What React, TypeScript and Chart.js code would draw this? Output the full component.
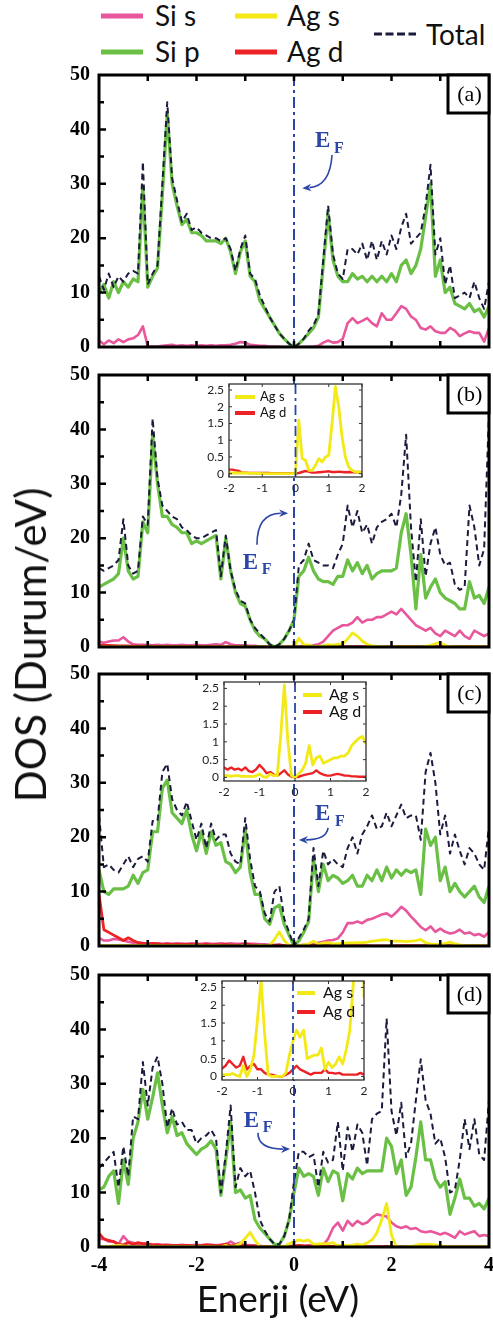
import React, { useEffect, useRef } from "react";
import { Chart, registerables } from "chart.js";
Chart.register(...registerables);

// Energy grid (eV), 0.1 eV step from -4 to 4
const ENERGY = Array.from({ length: 81 }, (_, i) => (i - 40) / 10);

const X_TICKS = [-4, -2, 0, 2, 4];
const Y_TICKS = [0, 10, 20, 30, 40, 50];
const INSET_X_TICKS = [-2, -1, 0, 1, 2];
const INSET_Y_TICKS = [0, 0.5, 1, 1.5, 2, 2.5];
const PANEL_TAGS = ["(a)", "(b)", "(c)", "(d)"];

// ---------- Panel (a) ----------
const A_TOTAL = [
  13, 10.5, 13.5, 11, 13, 12, 13.5, 14, 13.5, 34,
  11.5, 13.5, 15, 30, 45, 31, 27, 23, 24.5, 21.5,
  22, 21, 20.5, 20, 20, 19.5, 20, 18, 14, 18,
  20.5, 13.5, 12.5, 9.5, 7.5, 5.5, 4, 2.5, 1.5, 0.6,
  0, 0.6, 1.5, 3, 4, 6, 16, 26, 17, 13.5,
  12.5, 18, 18, 17, 19, 16, 19.5, 16, 19.5, 17,
  20.5, 18, 22, 24.5, 19, 20, 21, 26, 33.5, 17,
  20, 11.5, 15, 9, 9.5, 10, 9, 12, 9, 7,
  12,
];
const A_SIP = [
  10, 11.5, 9, 12, 10, 12, 11, 12.5, 12, 29.5,
  11, 13, 14.5, 28, 43, 30, 26, 22.5, 23.5, 21,
  21, 20.5, 19.5, 19.5, 19.5, 19, 20, 17.5, 13.5, 17.5,
  19.5, 13, 12, 8.5, 7, 5.5, 4, 2.5, 1.5, 0.6,
  0, 0.6, 1.5, 2.5, 3.5, 5.5, 15, 24.5, 16, 13,
  12, 12, 13.5, 12.5, 13, 12, 13, 12, 13, 12,
  13.5, 12, 15, 16, 13.5, 15, 18, 24, 30, 13,
  16, 10, 11, 8, 7.5, 7, 8, 6.5, 7, 5.5,
  7.5,
];
const A_SIS = [
  1.2, 0.5, 1.2, 0.7, 1.4, 0.9, 1.4, 1.6, 2.2, 3.8,
  0.1, 0.1, 0.1, 0.2, 0.3, 0.4, 0.2, 0.3, 0.2, 0.3,
  0.2, 0.3, 0.2, 0.3, 0.2, 0.3, 0.3, 0.4, 0.6, 0.9,
  0.8, 0.4, 0.3, 0.2, 0.2, 0.1, 0.1, 0.05, 0, 0,
  0, 0, 0, 0.05, 0.1, 0.2, 0.8, 1.2, 0.8, 0.9,
  1.5, 4.4, 5.3, 4.4, 4.8, 5.3, 4.4, 3.8, 6.2, 5,
  5, 6.2, 7.5, 7, 5.6, 5, 3.5, 3.2, 3.8, 2.9,
  2.6, 2.6, 3.5, 3, 2, 2.5, 2.9, 2.6, 2.6, 1,
  3.5,
];

// ---------- Panel (b) ----------
const B_TOTAL = [
  14.5, 14, 14.5, 15, 16, 23.5, 15, 13.5, 14, 24,
  22.5, 42, 31, 26, 25, 24, 23.5, 22, 21.5, 20.5,
  20, 20, 20.5, 21, 21.5, 13, 20.5, 14, 10.5, 8.5,
  8, 5, 3.5, 2.5, 1.5, 0.5, 0, 0.5, 1.5, 3,
  5, 15, 16, 19, 16, 15.5, 15, 15, 14.5, 17,
  19, 26, 22, 25, 21, 22.5, 19, 22, 23, 23.5,
  24.5, 22, 28, 39, 22, 12, 23.5, 13, 19, 22,
  17, 15, 15.5, 11.5, 10.5, 11, 26, 22, 15, 18,
  43,
];
const B_SIP = [
  11, 11.5, 12, 12.5, 13.5, 20, 14, 12.5, 13, 23,
  21, 39, 30, 24, 24, 22.5, 22, 21, 21, 19,
  19.5, 19, 19.5, 20, 20.5, 12.5, 20, 14, 10, 8,
  7.5, 5, 3, 2, 1.5, 0.5, 0, 0.5, 1.5, 3,
  5, 13, 14, 16.5, 14, 12.5, 12, 12, 11.5, 13,
  13, 16, 14, 15.5, 13.5, 15, 12.5, 13.5, 14, 14,
  14, 14.5, 21, 24.5, 17, 7, 17, 9, 11, 12.5,
  10, 9, 8.5, 8, 7, 7, 12, 9, 9.5, 8,
  11,
];
const B_SIS = [
  1, 0.8, 1, 1.2, 1.2, 1.8, 1, 0.5, 0.4, 0.4,
  0.4, 0.3, 0.4, 0.3, 0.4, 0.3, 0.3, 0.4, 0.3, 0.3,
  0.4, 0.3, 0.3, 0.4, 0.5, 0.4, 0.9, 0.5, 0.3, 0.3,
  0.3, 0.2, 0.2, 0.1, 0.1, 0.05, 0, 0, 0, 0,
  0, 0, 0.1, 0.2, 0.3, 0.5, 1, 2, 3, 3.5,
  4, 4, 4.5, 5.5, 4.5, 5, 5, 5.5, 5.5, 6,
  6.5, 6, 7, 6, 5, 4, 3.5, 3, 3.5, 2.5,
  2, 3, 2.5, 2, 3, 2, 1.5, 3, 2.5, 2,
  2.5,
];
const B_AGS = [
  0, 0, 0, 0, 0, 0, 0, 0, 0, 0,
  0, 0, 0, 0, 0, 0, 0, 0, 0, 0,
  0.02, 0.02, 0.02, 0.02, 0.02, 0.02, 0.01, 0.01, 0.01, 0.01,
  0, 0, 0, 0, 0, 0, 0, 0, 0, 0,
  0, 1.6, 0.45, 0.4, 0.1, 0.1, 0.25, 0.45, 0.35, 0.5,
  0.55, 1.5, 2.6, 2.0, 1.1, 0.5, 0.2, 0.1, 0.05, 0.05,
  0.02, 0, 0, 0, 0, 0, 0, 0.1, 0.3, 0.6,
  0.8, 0.3, 0.05, 0, 0, 0, 0, 0, 0, 0,
  0,
];
const B_AGD = [
  0.4, 0.3, 0.3, 0.25, 0.2, 0.2, 0.2, 0.15, 0.15, 0.15,
  0.15, 0.15, 0.12, 0.12, 0.12, 0.12, 0.12, 0.12, 0.12, 0.12,
  0.12, 0.12, 0.1, 0.08, 0.03, 0.03, 0.02, 0.02, 0.02, 0.02,
  0.02, 0.02, 0.02, 0.01, 0.01, 0.01, 0.01, 0.01, 0.01, 0.01,
  0, 0.02, 0.05, 0.08, 0.06, 0.03, 0.03, 0.04, 0.05, 0.06,
  0.07, 0.05, 0.05, 0.06, 0.05, 0.04, 0.05, 0.04, 0.04, 0.05,
  0.04, 0.05, 0.05, 0.06, 0.06, 0.05, 0.05, 0.06, 0.07, 0.06,
  0.05, 0.05, 0.05, 0.05, 0.05, 0.05, 0.05, 0.05, 0.05, 0.05,
  0.05,
];

// ---------- Panel (c) ----------
const C_TOTAL = [
  24, 14.5, 15, 14, 13.5, 15, 16.5, 14.5, 16, 16.5,
  15.5, 23, 23, 32, 33.5, 27, 25, 24, 26.5, 23,
  19.5, 22.5, 18, 22.5, 19.5, 20.5, 20.5, 17, 15.5, 15,
  23.5, 16, 11, 10, 6, 4.5, 10, 11, 5, 2.5,
  0, 1.5, 3, 5, 18, 11, 17.5, 15, 16, 15,
  14.5, 18, 20, 17, 20.5, 22, 24, 21.5, 22, 24.5,
  22, 24, 26, 23.5, 24, 24, 19.5, 32, 35.5, 30,
  20.5, 24, 17, 20.5, 17.5, 15, 18, 17, 15, 14,
  22,
];
const C_SIP = [
  14, 10, 9.5, 10.5, 10.5, 10.5, 11, 13, 11.5, 13.5,
  14, 21, 21, 29, 30.5, 24.5, 23.5, 22.5, 25, 20.5,
  17.5, 21, 17, 21, 18.5, 19, 15.5, 15, 13.5, 14.5,
  21.5, 13.5, 9.5, 9.5, 5, 4, 7, 7.5, 4, 2,
  0, 1, 2.5, 4.5, 16, 10, 15, 12, 13, 12.5,
  11.5, 12, 13, 11, 11, 13, 12, 14, 12, 14.5,
  12.5, 14, 13, 14, 13.5, 14, 9.5, 21.5, 18.5, 20,
  12, 14.5, 10, 11.5, 10, 9, 10, 11, 9, 8,
  11,
];
const C_SIS = [
  1.5, 1, 1, 1.3, 1.2, 1, 0.8, 0.6, 0.7, 0.5,
  0.5, 0.4, 0.5, 0.4, 0.5, 0.4, 0.5, 0.4, 0.4, 0.5,
  0.4, 0.4, 0.5, 0.4, 0.4, 0.5, 0.4, 0.5, 0.4, 0.4,
  0.5, 0.4, 0.4, 0.3, 0.3, 0.2, 0.2, 0.2, 0.1, 0.1,
  0, 0.1, 0.2, 0.3, 0.3, 0.6, 0.8, 1.0, 1.1, 1.4,
  2.5, 4.2, 4.2, 4.5, 4.2, 4.8, 5, 5.4, 5.8, 6,
  5.4, 6.2, 7.2, 6.5, 5.4, 4.5, 3.5, 2.9, 3.6, 2.6,
  3.2, 2.6, 2.3, 2.5, 3, 2.3, 2.5, 2, 2.2, 1.7,
  2.6,
];
const C_AGS = [
  0.05, 0.05, 0.05, 0.05, 0.05, 0.05, 0.05, 0.05, 0.05, 0.05,
  0.05, 0.05, 0.05, 0.05, 0.05, 0.05, 0.05, 0.05, 0.05, 0.05,
  0.05, 0.05, 0.03, 0.05, 0.05, 0.03, 0.03, 0.03, 0.02, 0.05,
  0.1, 0.02, 0, 0.1, 0.05, 0.05, 1.2, 2.6, 1.0, 0.05,
  0, 0.1, 0.2, 0.4, 0.9, 0.35, 0.55, 0.6, 0.4, 0.45,
  0.5, 0.55, 0.55, 0.6, 0.6, 0.7, 0.9, 1.0, 1.1, 1.15,
  0.95, 0.9, 0.9, 0.8, 0.9, 1.0, 1.2, 0.6, 0.4, 0.3,
  0.3, 0.5, 0.7, 0.4, 0.2, 0.1, 0.05, 0.05, 0.05, 0.05,
  0.05,
];
const C_AGD = [
  9.5, 3, 2.5, 2, 1.5, 1, 1.5, 1, 0.6, 0.5,
  0.4, 0.5, 0.4, 0.3, 0.35, 0.3, 0.3, 0.35, 0.3, 0.3,
  0.28, 0.22, 0.28, 0.22, 0.25, 0.2, 0.28, 0.18, 0.15, 0.22,
  0.35, 0.25, 0.12, 0.15, 0.08, 0.05, 0.12, 0.2, 0.08, 0.02,
  0, 0.02, 0.05, 0.08, 0.1, 0.12, 0.2, 0.12, 0.08, 0.05,
  0.05, 0.08, 0.1, 0.08, 0.05, 0.05, 0.03, 0.03, 0.02, 0.02,
  0.02, 0.05, 0.05, 0.05, 0.05, 0.05, 0.05, 0.05, 0.05, 0.05,
  0.05, 0.05, 0.05, 0.05, 0.05, 0.05, 0.05, 0.05, 0.05, 0.05,
  0.05,
];

// ---------- Panel (d) ----------
const D_TOTAL = [
  14.5, 15.5, 16.5, 17.5, 11, 18.5, 13, 24, 23.5, 34,
  26, 33, 35, 30, 22, 25.5, 22.5, 23, 21.5, 21.5,
  19, 20, 20.5, 21.5, 20, 10, 17, 26, 11, 14.5,
  13, 14, 10, 5, 3, 1.5, 0.5, 0.5, 2, 5,
  12, 17.5, 17.5, 16.5, 17, 11, 17.5, 15.5, 16, 23,
  14, 22, 17.5, 22.5, 21, 15, 23.5, 24.5, 25, 42,
  25, 20.5, 26.5, 16.5, 19, 27, 34.5, 27, 24.5, 19,
  20, 16.5, 10, 10.5, 16, 23.5, 18, 23.5, 17, 16,
  27,
];
const D_SIP = [
  10.5, 11, 13, 14, 8, 16, 11.5, 20, 23, 29,
  23.5, 27.5, 32, 26, 21, 24, 20.5, 21, 19, 18,
  17, 18, 18.5, 19.5, 18, 9.5, 16, 23, 10, 10.5,
  9, 9.5, 5, 3.5, 2.5, 1.5, 0.5, 0.5, 2, 5,
  10, 14.5, 13, 13.5, 13, 9.5, 14.5, 12, 14, 13.5,
  8.5, 13.5, 12.5, 14.5, 13.5, 14, 14, 14, 14, 20,
  18.5, 13.5, 16, 9.5, 11, 16.5, 23, 16, 16, 12.5,
  11, 12, 6, 9, 12.5, 9, 9, 7.5, 8, 7,
  9,
];
const D_SIS = [
  1.5, 1.5, 1, 1, 0.5, 2, 1, 0.8, 0.5, 0.6,
  0.5, 0.4, 0.5, 0.4, 0.4, 0.3, 0.3, 0.4, 0.3, 0.3,
  0.4, 0.3, 0.3, 0.4, 0.3, 0.4, 0.5, 1, 0.5, 0.8,
  0.4, 0.3, 0.3, 0.2, 0.1, 0.05, 0, 0, 0.05, 0.1,
  0.1, 0.2, 0.2, 0.3, 0.2, 0.3, 0.4, 1.5, 3.5, 4.5,
  3, 4.8, 3.9, 4.8, 4.2, 4.5, 5.4, 6, 5.8, 5.6,
  4.5, 3.8, 3.5, 3.8, 3.3, 3.5, 2.9, 2.7, 2.9, 2.6,
  2.3, 2.6, 2.2, 1.7, 2.9, 2.3, 2.6, 2.9, 2, 2.2,
  2,
];
const D_AGS = [
  0.05, 0.05, 0.1, 0.2, 0.3, 0.2, 0.1, 0.05, 0.05, 0.05,
  0.05, 0.05, 0.05, 0.05, 0.05, 0.05, 0.05, 0.05, 0.05, 0.05,
  0.05, 0.05, 0.05, 0.08, 0.03, 0, 0.3, 0, 0.2, 0.6,
  1.6, 2.7, 1.2, 0.05, 0, 0, 0, 0, 0.1, 0.6,
  1.0, 1.3, 1.1, 1.3, 0.5, 0.55, 0.6, 0.6, 0.8, 0.2,
  0.4, 0.25, 0.35, 0.55, 0.35, 0.75, 1.3, 2.6, 5, 8,
  2.2, 0, 0, 0.05, 0.1, 0.3, 0.5, 0.5, 0.5, 0.4,
  0.2, 0.1, 0.05, 0.05, 0.05, 0.05, 0.05, 0.05, 0.05, 0.05,
  0.05,
];
const D_AGD = [
  2.5, 1.5, 1.2, 1, 0.5, 0.4, 0.8, 0.5, 0.8, 0.6,
  0.6, 0.4, 0.4, 0.3, 0.35, 0.3, 0.3, 0.25, 0.3, 0.25,
  0.22, 0.3, 0.45, 0.35, 0.25, 0.3, 0.55, 0.2, 0.3, 0.35,
  0.2, 0.2, 0.1, 0.05, 0.05, 0.02, 0, 0, 0.05, 0.1,
  0.2, 0.3, 0.2, 0.15, 0.1, 0.05, 0.1, 0.1, 0.1, 0.2,
  0.1, 0.1, 0.08, 0.1, 0.05, 0.05, 0.05, 0.05, 0.05, 0.1,
  0.05, 0.05, 0.05, 0.05, 0.05, 0.05, 0.05, 0.05, 0.05, 0.05,
  0.05, 0.05, 0.05, 0.05, 0.05, 0.05, 0.05, 0.05, 0.05, 0.05,
  0.05,
];

// ---------- styling ----------
const PINK = "#e8579b";
const GREEN = "#6abf45";
const YELLOW = "#f3e917";
const RED = "#ec2227";
const NAVY = "#1b1b3d";
const BLUE = "#2b46a7";
const SERIF = "'Liberation Serif', 'Times New Roman', serif";
const SANS = "Lato, 'Open Sans', sans-serif";

type EF = { ex: number; ey: number; fx: number; fy: number; s: [number, number]; c: [number, number]; t: [number, number] };
type Panel = {
  tag: string; top: number; total: number[]; sip: number[]; sis: number[];
  ags: number[] | null; agd: number[] | null; showX: boolean; ef: EF;
};

const PANELS: Panel[] = [
  { tag: PANEL_TAGS[0], top: 75, total: A_TOTAL, sip: A_SIP, sis: A_SIS, ags: null, agd: null, showX: false,
    ef: { ex: 0.43, ey: 36.8, fx: 0.82, fy: 35.7, s: [0.78, 35.3], c: [0.74, 29.6], t: [0.17, 29.2] } },
  { tag: PANEL_TAGS[1], top: 375, total: B_TOTAL, sip: B_SIP, sis: B_SIS, ags: B_AGS, agd: B_AGD, showX: false,
    ef: { ex: -1.05, ey: 14.3, fx: -0.66, fy: 13.4, s: [-0.76, 18.8], c: [-0.76, 24.6], t: [-0.12, 24.6] } },
  { tag: PANEL_TAGS[2], top: 674, total: C_TOTAL, sip: C_SIP, sis: C_SIS, ags: C_AGS, agd: C_AGD, showX: false,
    ef: { ex: 0.43, ey: 23.2, fx: 0.84, fy: 22.1, s: [0.7, 21.7], c: [0.66, 19.5], t: [0.1, 19.5] } },
  { tag: PANEL_TAGS[3], top: 975, total: D_TOTAL, sip: D_SIP, sis: D_SIS, ags: D_AGS, agd: D_AGD, showX: true,
    ef: { ex: -1.03, ey: 22.1, fx: -0.64, fy: 21.1, s: [-0.74, 21], c: [-0.74, 18], t: [-0.08, 18] } },
];

type Inset = {
  left: number; top: number; w: number; h: number; ags: number[]; agd: number[];
  lg: { x: number; y: number; dy: number; len: number; tx: number; size: number };
};
const INSETS: Inset[] = [
  { left: 199, top: 378, w: 171, h: 119, ags: B_AGS, agd: B_AGD, lg: { x: 6, y: 13, dy: 16, len: 20, tx: 31, size: 13 } },
  { left: 194, top: 676, w: 180, h: 125, ags: C_AGS, agd: C_AGD, lg: { x: 79, y: 13, dy: 17, len: 19, tx: 105, size: 16 } },
  { left: 192, top: 975, w: 180, h: 125, ags: D_AGS, agd: D_AGD, lg: { x: 75, y: 12, dy: 19, len: 18, tx: 101, size: 16 } },
];

function ds(label: string, values: number[], color: string, width: number, dash: number[] = []) {
  return {
    label,
    data: ENERGY.map((x, i) => ({ x, y: values[i] })),
    borderColor: color,
    backgroundColor: color,
    borderWidth: width,
    borderDash: dash,
    pointRadius: 0,
    tension: 0,
    fill: false,
    borderJoinStyle: "round",
  };
}

function mainDecor(p: Panel) {
  return {
    id: "mainDecor",
    afterDatasetsDraw(chart: any) {
      const { ctx, chartArea: a, scales } = chart;
      const x = scales.x, y = scales.y;
      ctx.save();
      // Fermi level
      const xf = x.getPixelForValue(0);
      ctx.strokeStyle = BLUE;
      ctx.lineWidth = 2;
      ctx.setLineDash([11, 4, 3, 4]);
      ctx.beginPath();
      ctx.moveTo(xf, a.top);
      ctx.lineTo(xf, a.bottom);
      ctx.stroke();
      ctx.setLineDash([]);
      // inward ticks
      ctx.strokeStyle = "#000";
      ctx.lineWidth = 2.5;
      ctx.beginPath();
      for (let v = -3; v <= 3; v++) {
        const px = x.getPixelForValue(v);
        ctx.moveTo(px, a.bottom); ctx.lineTo(px, a.bottom - 6);
        ctx.moveTo(px, a.top); ctx.lineTo(px, a.top + 6);
      }
      for (let v = 5; v < 50; v += 5) {
        const py = y.getPixelForValue(v);
        ctx.moveTo(a.left, py); ctx.lineTo(a.left + (v % 10 === 0 ? 7 : 5), py);
      }
      ctx.stroke();
      // frame
      ctx.lineWidth = 3;
      ctx.strokeRect(a.left, a.top, a.right - a.left, a.bottom - a.top);
      // panel tag box
      const bw = 41, bh = 38;
      ctx.fillStyle = "#fff";
      ctx.fillRect(a.right - bw, a.top, bw, bh);
      ctx.strokeRect(a.right - bw, a.top, bw, bh);
      ctx.fillStyle = "#000";
      ctx.font = `22px ${SERIF}`;
      ctx.textAlign = "center";
      ctx.textBaseline = "middle";
      ctx.fillText(p.tag, a.right - bw / 2 + 1, a.top + bh / 2 + 1);
      // E_F label
      const e = p.ef;
      ctx.fillStyle = BLUE;
      ctx.textAlign = "left";
      ctx.textBaseline = "alphabetic";
      ctx.font = `bold 23px ${SERIF}`;
      ctx.fillText("E", x.getPixelForValue(e.ex), y.getPixelForValue(e.ey));
      ctx.font = `bold 16px ${SERIF}`;
      ctx.fillText("F", x.getPixelForValue(e.fx), y.getPixelForValue(e.fy));
      // arrow
      const sx = x.getPixelForValue(e.s[0]), sy = y.getPixelForValue(e.s[1]);
      const cx = x.getPixelForValue(e.c[0]), cy = y.getPixelForValue(e.c[1]);
      const tx = x.getPixelForValue(e.t[0]), ty = y.getPixelForValue(e.t[1]);
      const ang = Math.atan2(ty - cy, tx - cx);
      const hl = 9, hw = 3.8;
      const bx = tx - Math.cos(ang) * hl * 0.8, by = ty - Math.sin(ang) * hl * 0.8;
      ctx.strokeStyle = BLUE;
      ctx.lineWidth = 1.6;
      ctx.beginPath();
      ctx.moveTo(sx, sy);
      ctx.quadraticCurveTo(cx, cy, bx, by);
      ctx.stroke();
      ctx.beginPath();
      ctx.moveTo(tx, ty);
      ctx.lineTo(tx - Math.cos(ang) * hl - Math.sin(ang) * hw, ty - Math.sin(ang) * hl + Math.cos(ang) * hw);
      ctx.lineTo(tx - Math.cos(ang) * hl * 0.7, ty - Math.sin(ang) * hl * 0.7);
      ctx.lineTo(tx - Math.cos(ang) * hl + Math.sin(ang) * hw, ty - Math.sin(ang) * hl - Math.cos(ang) * hw);
      ctx.closePath();
      ctx.fill();
      ctx.restore();
    },
  };
}

function mainConfig(p: Panel): any {
  const datasets: any[] = [ds("Total", p.total, NAVY, 2, [6, 4]), ds("Si p", p.sip, GREEN, 3.2)];
  if (p.ags && p.agd) {
    datasets.push(ds("Ag s", p.ags, YELLOW, 2.8));
    datasets.push(ds("Ag d", p.agd, RED, 2.8));
  }
  datasets.push(ds("Si s", p.sis, PINK, 2.6));
  return {
    type: "line",
    data: { datasets },
    options: {
      animation: false,
      responsive: false,
      layout: { padding: { left: 0, right: 4, top: 15, bottom: p.showX ? 0 : 15 } },
      plugins: { legend: { display: false }, tooltip: { enabled: false } },
      scales: {
        x: {
          type: "linear", min: -4, max: 4, display: p.showX,
          grid: { display: false, drawTicks: false }, border: { display: false },
          afterBuildTicks: (s: any) => { s.ticks = X_TICKS.map((v) => ({ value: v })); },
          ticks: {
            font: { family: SERIF, size: 20, weight: "bold" }, color: "#000", padding: 7,
            maxRotation: 0, autoSkip: false, callback: (v: any) => String(v),
          },
          afterFit: (s: any) => {
            s.height = p.showX ? 35 : 0;
            s.paddingLeft = 0;
            s.paddingRight = 0;
          },
        },
        y: {
          type: "linear", min: 0, max: 50,
          grid: { display: false, drawTicks: false }, border: { display: false },
          afterBuildTicks: (s: any) => { s.ticks = Y_TICKS.map((v) => ({ value: v })); },
          ticks: { font: { family: SERIF, size: 20, weight: "bold" }, color: "#000", padding: 9, callback: (v: any) => String(v) },
          afterFit: (s: any) => { s.width = 99; s.paddingTop = 0; s.paddingBottom = 0; },
        },
      },
    },
    plugins: [mainDecor(p)],
  };
}

function insetDecor(s: Inset) {
  return {
    id: "insetDecor",
    beforeDraw(chart: any) {
      const { ctx, chartArea: a } = chart;
      ctx.save();
      ctx.fillStyle = "#fff";
      ctx.fillRect(a.left, a.top, a.right - a.left, a.bottom - a.top);
      ctx.restore();
    },
    afterDatasetsDraw(chart: any) {
      const { ctx, chartArea: a, scales } = chart;
      const x = scales.x, y = scales.y;
      ctx.save();
      const xf = x.getPixelForValue(0);
      ctx.strokeStyle = BLUE;
      ctx.lineWidth = 1.8;
      ctx.setLineDash([10, 4, 3, 4]);
      ctx.beginPath();
      ctx.moveTo(xf, a.top);
      ctx.lineTo(xf, a.bottom);
      ctx.stroke();
      ctx.setLineDash([]);
      ctx.strokeStyle = "#333";
      ctx.lineWidth = 1;
      ctx.beginPath();
      for (const v of INSET_Y_TICKS) {
        const py = y.getPixelForValue(v);
        ctx.moveTo(a.left, py); ctx.lineTo(a.left + 3, py);
        ctx.moveTo(a.right, py); ctx.lineTo(a.right - 3, py);
      }
      for (const v of INSET_X_TICKS) {
        const px = x.getPixelForValue(v);
        ctx.moveTo(px, a.bottom); ctx.lineTo(px, a.bottom - 3);
        ctx.moveTo(px, a.top); ctx.lineTo(px, a.top + 3);
      }
      ctx.stroke();
      ctx.lineWidth = 1.3;
      ctx.strokeRect(a.left, a.top, a.right - a.left, a.bottom - a.top);
      // legend
      const g = s.lg;
      const items: [string, string][] = [["Ag s", YELLOW], ["Ag d", RED]];
      items.forEach(([label, color], i) => {
        const yy = a.top + g.y + i * g.dy;
        ctx.strokeStyle = color;
        ctx.lineWidth = 4;
        ctx.beginPath();
        ctx.moveTo(a.left + g.x, yy);
        ctx.lineTo(a.left + g.x + g.len, yy);
        ctx.stroke();
        ctx.fillStyle = "#111";
        ctx.font = `${g.size}px ${SANS}`;
        ctx.textAlign = "left";
        ctx.textBaseline = "middle";
        ctx.fillText(label, a.left + g.tx, yy);
      });
      ctx.restore();
    },
  };
}

function insetConfig(s: Inset): any {
  return {
    type: "line",
    data: { datasets: [ds("Ag s", s.ags, YELLOW, 2.8), ds("Ag d", s.agd, RED, 2.4)] },
    options: {
      animation: false,
      responsive: false,
      layout: { padding: { left: 0, right: 8, top: 6, bottom: 0 } },
      plugins: { legend: { display: false }, tooltip: { enabled: false } },
      scales: {
        x: {
          type: "linear", min: -2, max: 2,
          grid: { display: false, drawTicks: false }, border: { display: false },
          afterBuildTicks: (sc: any) => { sc.ticks = INSET_X_TICKS.map((v) => ({ value: v })); },
          ticks: { font: { family: SANS, size: 12 }, color: "#222", padding: 4, maxRotation: 0, autoSkip: false, callback: (v: any) => String(v) },
          afterFit: (sc: any) => { sc.height = 20; sc.paddingLeft = 0; sc.paddingRight = 0; },
        },
        y: {
          type: "linear", min: -0.1, max: 2.68,
          grid: { display: false, drawTicks: false }, border: { display: false },
          afterBuildTicks: (sc: any) => { sc.ticks = INSET_Y_TICKS.map((v) => ({ value: v })); },
          ticks: { font: { family: SANS, size: 12 }, color: "#222", padding: 5, callback: (v: any) => String(v) },
          afterFit: (sc: any) => { sc.width = 30; sc.paddingTop = 0; sc.paddingBottom = 0; },
        },
      },
    },
    plugins: [insetDecor(s)],
  };
}

const LEGEND = [
  { label: "Si s", color: PINK, lx: 101, ly: 16, tx: 155, ty: 1, dash: false },
  { label: "Si p", color: GREEN, lx: 101, ly: 52, tx: 155, ty: 37, dash: false },
  { label: "Ag s", color: YELLOW, lx: 235, ly: 16, tx: 287, ty: 1, dash: false },
  { label: "Ag d", color: RED, lx: 235, ly: 52, tx: 287, ty: 37, dash: false },
  { label: "Total", color: NAVY, lx: 374, ly: 34, tx: 426, ty: 20, dash: true },
];

export default function App() {
  const refs = useRef<(HTMLCanvasElement | null)[]>([]);

  useEffect(() => {
    const charts: Chart[] = [];
    PANELS.forEach((p, i) => {
      const c = refs.current[i];
      if (c) charts.push(new Chart(c, mainConfig(p)));
    });
    INSETS.forEach((s, j) => {
      const c = refs.current[4 + j];
      if (c) charts.push(new Chart(c, insetConfig(s)));
    });
    return () => charts.forEach((c) => c.destroy());
  }, []);

  return (
    <div style={{ position: "absolute", left: 0, top: 0, width: 493, height: 1328, background: "#fff", overflow: "hidden" }}>
      {LEGEND.map((l) => (
        <React.Fragment key={l.label}>
          <svg style={{ position: "absolute", left: l.lx, top: l.ly - 4, width: 43, height: 8 }} width={43} height={8}>
            <line x1={0} y1={4} x2={42} y2={4} stroke={l.color} strokeWidth={l.dash ? 3 : 5} strokeDasharray={l.dash ? "8 3.5" : undefined} />
          </svg>
          <div style={{ position: "absolute", left: l.tx, top: l.ty, font: `28px ${SANS}`, lineHeight: "28px", color: "#111", whiteSpace: "nowrap" }}>{l.label}</div>
        </React.Fragment>
      ))}
      {PANELS.map((p, i) => {
        const h = p.showX ? 322 : 302;
        return (
          <canvas
            key={p.tag}
            ref={(el) => { refs.current[i] = el; }}
            width={493}
            height={h}
            style={{ position: "absolute", left: 0, top: p.top - 15, width: 493, height: h }}
          />
        );
      })}
      {INSETS.map((s, j) => (
        <canvas
          key={"inset" + j}
          ref={(el) => { refs.current[4 + j] = el; }}
          width={s.w}
          height={s.h}
          style={{ position: "absolute", left: s.left, top: s.top, width: s.w, height: s.h }}
        />
      ))}
      <div style={{ position: "absolute", left: 30, top: 645, transform: "translate(-50%, -50%) rotate(-90deg)", font: `42px ${SANS}`, lineHeight: "42px", color: "#111", whiteSpace: "nowrap" }}>
        DOS (Durum/eV)
      </div>
      <div style={{ position: "absolute", left: 278, top: 1279, transform: "translateX(-50%)", font: `37px ${SANS}`, lineHeight: "37px", color: "#111", whiteSpace: "nowrap" }}>
        Enerji (eV)
      </div>
    </div>
  );
}
